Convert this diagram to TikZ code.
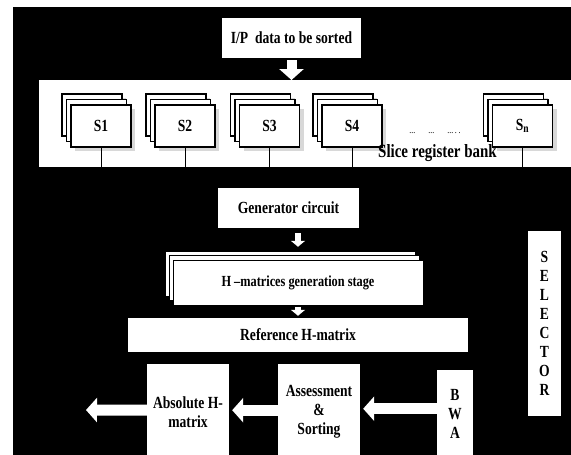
\documentclass[tikz,border=0pt]{standalone}
\usepackage{fontspec}
\setmainfont{Liberation Serif}[FakeStretch=0.8]
\usepackage{tikz}
\usetikzlibrary{calc}
\usetikzlibrary{arrows.meta}
\usetikzlibrary{shadows}

\tikzset{
	blk/.style = {fill=white, inner sep=0pt, align=center},
	slice/.style = {draw=black, line width=1.2pt, fill=white, minimum width=60pt, minimum height=42pt, inner sep=0pt},
	shade/.style = {drop shadow={shadow xshift=4pt, shadow yshift=-4pt, opacity=0.3}},
	bigarrow/.style = {draw=white, line width=11pt, -{Triangle[length=11pt, width=24pt]}},
	smallarrow/.style = {draw=white, line width=6pt, -{Triangle[length=6pt, width=14pt]}},
}

\begin{document}
\begin{tikzpicture}[x=1pt, y=-1pt, font=\bfseries\fontsize{17}{19}\selectfont]
	\useasboundingbox (0, 0) rectangle (571, 455);
	\clip (0, 0) rectangle (571, 455);
	\fill[white] (0, 0) rectangle (571, 455);
	\fill[black] (13, 7) rectangle (571, 455);

	\node[blk, minimum width=139pt, minimum height=40pt] (ip) at (291.5, 38) {I/P\ \ data to be sorted};
	\node[fill=white, minimum width=532pt, minimum height=87pt, anchor=north west] (band) at (39, 80) {};
	\draw[bigarrow, line width=10pt, shorten <=2pt] (ip.south) -- (ip.south |- band.north);

	\foreach \name/\xx/\lbl in {s1/101/S1, s2/185/S2, s3/269.5/S3, s4/352/S4, sn/522.5/{S\textsubscript{n}}} {
		\node[slice, shade] at (\xx - 9, 115) {};
		\node[slice, shade] at (\xx - 4.5, 120.5) {};
		\node[slice, shade] (\name) at (\xx, 126) {\lbl};
		\draw[line width=1pt] (\name.south) -- (\name.south |- band.south);
	}
	\node[font=\mdseries\fontsize{10}{10}\selectfont] (dots) at (435, 133) {...\hspace{13pt}...\hspace{13pt}...\,.\,.};
	\node[font=\bfseries\fontsize{18.7}{20}\selectfont] (bank) at (437.5, 153) {Slice register bank};

	\node[blk, minimum width=141pt, minimum height=40pt] (gen) at (288.5, 208) {Generator circuit};
	\node[blk, draw=black, minimum width=250pt, minimum height=45pt] (hback) at (290, 273.5) {};
	\node[blk, draw=black, minimum width=250pt, minimum height=45pt] (hmid) at (294, 278) {};
	\node[blk, draw=black, minimum width=250pt, minimum height=45pt, font=\bfseries\fontsize{15.4}{17}\selectfont] (hm) at (298, 282.5) {H --matrices generation stage};
	\draw[smallarrow, shorten <=5pt, shorten >=4pt] (hm.north |- gen.south) -- (hm.north |- hback.north);

	\node[blk, minimum width=340pt, minimum height=34pt] (ref) at (298, 335) {Reference H-matrix};
	\draw[smallarrow, shorten <=2pt, shorten >=2pt] (hm.south) -- (ref.north);

	\node[blk, minimum width=33pt, minimum height=185pt] (sel) at (544.5, 323.5) {S\\E\\L\\E\\C\\T\\O\\R};

	\node[blk, minimum width=82pt, minimum height=96pt, anchor=north] (abs) at (188, 364) {Absolute H-\\matrix};
	\node[blk, minimum width=82pt, minimum height=96pt, anchor=north] (ass) at (319, 364) {Assessment\\\&\\Sorting};
	\node[blk, minimum width=36pt, minimum height=87pt, anchor=north] (bwa) at (455, 370) {B\\W\\A};
	\coordinate (out) at (86, 410);
	\draw[bigarrow, shorten >=3pt] ([yshift=5pt]bwa.west) -- ([yshift=5pt]bwa.west -| ass.east);
	\draw[bigarrow, shorten >=3pt] ([yshift=2pt]ass.west) -- ([yshift=2pt]ass.west -| abs.east);
	\draw[bigarrow] ([yshift=2pt]abs.west) -- (out);
\end{tikzpicture}
\end{document}
